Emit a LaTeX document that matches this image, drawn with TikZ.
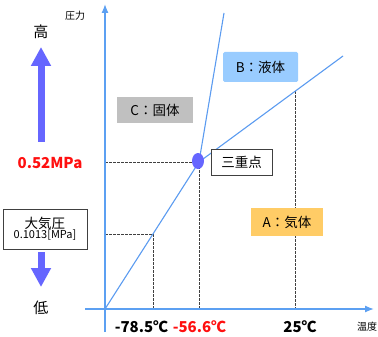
\documentclass[tikz,border=0pt]{standalone}
\usepackage{fontspec}
\setmainfont{Noto Sans CJK JP}
\usetikzlibrary{arrows.meta,calc,shapes.geometric}
\definecolor{lineblue}{HTML}{5B9BF0}
\definecolor{axblue}{HTML}{5CA0F2}
\definecolor{arrowblue}{HTML}{6666FF}
\definecolor{boxgray}{HTML}{C0C0C0}
\definecolor{boxblue}{HTML}{99CCFF}
\definecolor{boxorange}{HTML}{FFCC66}
\definecolor{redtxt}{HTML}{FF1010}
\tikzset{
  myaxis/.style={color=axblue, line width=1.3pt, -{Latex[length=9pt,width=7pt]}},
  curve/.style={lineblue, line width=1.1pt},
  guide/.style={black!75, dashed, dash pattern=on 2.5pt off 1.5pt, line width=0.8pt},
  phasebox/.style={inner sep=0pt, minimum height=26pt, font=\fontsize{13.5}{14}\selectfont},
  bigarrow/.style={arrowblue, line width=7pt, -{Triangle[width=19pt,length=19pt]}},
  smalltxt/.style={font=\fontsize{10}{11}\selectfont},
  tempnum/.style={font=\bfseries\fontsize{15}{16}\selectfont},
}
\begin{document}
\begin{tikzpicture}[x=1pt,y=-1pt]
\useasboundingbox (0,0) rectangle (378,337);
% key points
\coordinate (O) at (105,309);
\coordinate (T) at (199,162);
\coordinate (M) at (224,13);
\coordinate (V) at (343,56);
\coordinate (Xs) at (85,309);
\coordinate (Xe) at (374,309);
\coordinate (Ys) at (105,332);
\coordinate (Ye) at (105,4);
\coordinate (Pa) at ($(O)!0.51!(T)$);
\coordinate (P25) at ($(T)!0.6667!(V)$);
% guides
\draw[guide] (T -| O) -- (T);
\draw[guide] (T) -- (T |- O);
\draw[guide] (Pa -| O) -- (Pa);
\draw[guide] (Pa) -- (Pa |- O);
\draw[guide] (P25) -- (P25 |- O);
% axes
\draw[myaxis] (Xs) -- (Xe);
\draw[myaxis] (Ys) -- (Ye);
% curves
\draw[curve] (O) -- (T);
\draw[curve] (T) -- (M);
\draw[curve] (T) -- (V);
\node[fill=arrowblue, ellipse, inner sep=0pt, minimum width=12pt, minimum height=16pt] (tp) at (198,161) {};
% labels
\node[smalltxt] (yl) at (75,16) {圧力};
\node[smalltxt] (xl) at (367,327) {温度};
\node[font=\fontsize{15}{16}\selectfont] (hi) at (41,32) {高};
\node[font=\fontsize{15}{16}\selectfont] (lo) at (41,308) {低};
\node[text=redtxt, font=\bfseries\fontsize{15}{16}\selectfont] (p052) at (50,163) {0.52MPa};
\coordinate (upS) at (41,142);
\coordinate (upE) at (41,47);
\draw[bigarrow] (upS) -- (upE);
\node[draw=black!75, fill=white, line width=0.8pt, minimum width=84pt, minimum height=40pt, inner sep=0pt, align=center] (atm) at (45,229)
  {\fontsize{13.5}{14}\selectfont 大気圧\\[-2pt]\fontsize{11}{12}\selectfont 0.1013[MPa]};
\coordinate (dnS) at (41,252);
\coordinate (dnE) at (41,287);
\draw[bigarrow] (dnS) -- (dnE);
\node[phasebox, fill=boxgray, minimum width=76pt] (solid) at (155,110) {C：固体};
\node[phasebox, fill=boxblue, rounded corners=1.5pt, minimum width=75pt, minimum height=30pt] (liquid) at (260.5,67) {B：液体};
\node[phasebox, fill=boxorange, minimum width=72pt, minimum height=28pt] (gas) at (287,222) {A：気体};
\node[phasebox, draw=black!75, fill=white, line width=0.8pt, minimum width=61pt] (triple) at (241.5,162) {三重点};
\node[tempnum] (t1) at (141.5,327) {-78.5℃};
\node[tempnum, text=redtxt] (t2) at (199.5,327) {-56.6℃};
\node[tempnum] (t3) at (300,327) {25℃};
\end{tikzpicture}
\end{document}
